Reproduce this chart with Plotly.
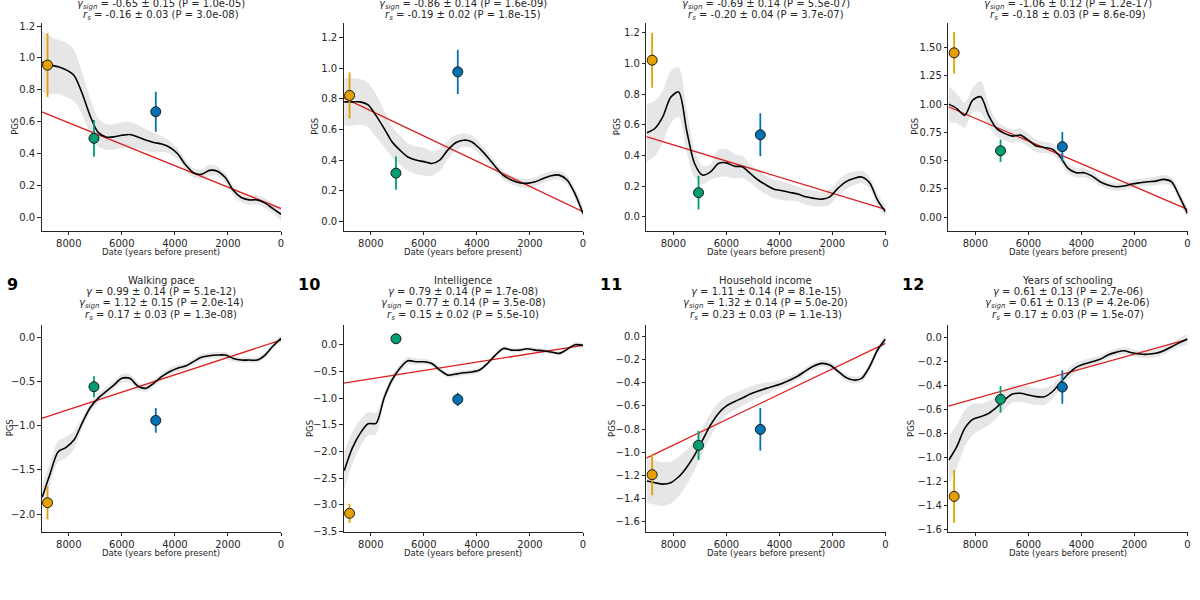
import plotly.graph_objects as go

# ---------------- data ----------------
years = [9000, 8700, 8400, 8100, 7800, 7500, 7200, 6900, 6600, 6300, 6000, 5700, 5400, 5100,
         4800, 4500, 4200, 3900, 3600, 3300, 3000, 2700, 2400, 2100, 1800, 1500, 1200, 900,
         600, 300, 0]

panel_ids = ["5", "6", "7", "8", "9", "10", "11", "12"]
trait_names = ["", "", "", "", "Walking pace", "Intelligence", "Household income", "Years of schooling"]
gamma_text = ["", "", "", "",
              "0.99 ± 0.14 (P = 5.1e-12)", "0.79 ± 0.14 (P = 1.7e-08)",
              "1.11 ± 0.14 (P = 8.1e-15)", "0.61 ± 0.13 (P = 2.7e-06)"]
gamma_sign_text = ["-0.65 ± 0.15 (P = 1.0e-05)", "-0.86 ± 0.14 (P = 1.6e-09)",
                   "-0.69 ± 0.14 (P = 5.5e-07)", "-1.06 ± 0.12 (P = 1.2e-17)",
                   "1.12 ± 0.15 (P = 2.0e-14)", "0.77 ± 0.14 (P = 3.5e-08)",
                   "1.32 ± 0.14 (P = 5.0e-20)", "0.61 ± 0.13 (P = 4.2e-06)"]
rs_text = ["-0.16 ± 0.03 (P = 3.0e-08)", "-0.19 ± 0.02 (P = 1.8e-15)",
           "-0.20 ± 0.04 (P = 3.7e-07)", "-0.18 ± 0.03 (P = 8.6e-09)",
           "0.17 ± 0.03 (P = 1.3e-08)", "0.15 ± 0.02 (P = 5.5e-10)",
           "0.23 ± 0.03 (P = 1.1e-13)", "0.17 ± 0.03 (P = 1.5e-07)"]

# smoothed PGS trajectory (black curve)
pgs_mean = [
    [0.975, 0.955, 0.945, 0.925, 0.89, 0.78, 0.64, 0.535, 0.505, 0.505, 0.515, 0.52, 0.505, 0.485,
     0.47, 0.46, 0.44, 0.40, 0.33, 0.28, 0.27, 0.295, 0.29, 0.25, 0.17, 0.125, 0.11, 0.11, 0.09, 0.055, 0.02],
    [0.78, 0.78, 0.78, 0.76, 0.69, 0.607, 0.52, 0.465, 0.42, 0.40, 0.39, 0.378, 0.40, 0.465,
     0.513, 0.53, 0.52, 0.476, 0.42, 0.357, 0.30, 0.27, 0.252, 0.248, 0.258, 0.28, 0.298, 0.302, 0.27, 0.18, 0.052],
    [0.548, 0.576, 0.652, 0.78, 0.815, 0.565, 0.348, 0.272, 0.293, 0.348, 0.352, 0.33, 0.326, 0.283,
     0.24, 0.207, 0.18, 0.17, 0.159, 0.148, 0.13, 0.12, 0.115, 0.13, 0.185, 0.228, 0.25, 0.26, 0.222, 0.109, 0.033],
    [0.999, 0.96, 0.90, 1.034, 1.064, 0.90, 0.784, 0.74, 0.716, 0.725, 0.68, 0.628, 0.616, 0.601,
     0.533, 0.43, 0.392, 0.392, 0.362, 0.312, 0.283, 0.268, 0.274, 0.292, 0.303, 0.312, 0.318, 0.333, 0.312, 0.18, 0.032],
    [-1.81, -1.54, -1.294, -1.245, -1.16, -0.974, -0.80, -0.69, -0.615, -0.54, -0.464, -0.464, -0.55, -0.577,
     -0.52, -0.445, -0.389, -0.35, -0.325, -0.275, -0.226, -0.208, -0.20, -0.20, -0.238, -0.257, -0.257, -0.257, -0.20, -0.098, -0.011],
    [-2.357, -1.94, -1.66, -1.48, -1.47, -1.0, -0.66, -0.44, -0.30, -0.318, -0.318, -0.35, -0.474, -0.568,
     -0.549, -0.524, -0.511, -0.474, -0.35, -0.193, -0.069, -0.10, -0.10, -0.075, -0.10, -0.112, -0.137, -0.162, -0.087, 0.0, -0.012],
    [-1.249, -1.263, -1.275, -1.263, -1.212, -1.131, -1.025, -0.895, -0.766, -0.665, -0.60, -0.564, -0.532, -0.498,
     -0.472, -0.449, -0.429, -0.406, -0.377, -0.342, -0.296, -0.256, -0.233, -0.248, -0.30, -0.354, -0.377, -0.363, -0.262, -0.118, -0.023],
    [-1.025, -0.914, -0.761, -0.686, -0.664, -0.636, -0.586, -0.525, -0.475, -0.469, -0.483, -0.497, -0.497, -0.456,
     -0.381, -0.308, -0.253, -0.225, -0.206, -0.186, -0.15, -0.128, -0.114, -0.131, -0.142, -0.144, -0.136, -0.114, -0.081, -0.047, -0.017],
]

# half-width of the confidence band (grey)
pgs_halfwidth = [
    [0.19, 0.18, 0.17, 0.17, 0.16, 0.13, 0.11, 0.09, 0.08, 0.08, 0.08, 0.08, 0.075, 0.07,
     0.06, 0.05, 0.04, 0.035, 0.03, 0.03, 0.03, 0.035, 0.03, 0.03, 0.03, 0.03, 0.03, 0.03, 0.03, 0.03, 0.04],
    [0.155, 0.155, 0.15, 0.145, 0.14, 0.12, 0.10, 0.095, 0.09, 0.09, 0.09, 0.08, 0.07, 0.06,
     0.05, 0.045, 0.04, 0.04, 0.035, 0.03, 0.03, 0.03, 0.03, 0.03, 0.03, 0.03, 0.03, 0.03, 0.03, 0.035, 0.04],
    [0.19, 0.18, 0.17, 0.17, 0.16, 0.14, 0.09, 0.06, 0.05, 0.09, 0.09, 0.08, 0.07, 0.06,
     0.06, 0.06, 0.06, 0.06, 0.055, 0.05, 0.05, 0.05, 0.05, 0.05, 0.05, 0.05, 0.045, 0.04, 0.04, 0.04, 0.04],
    [0.16, 0.13, 0.11, 0.11, 0.14, 0.10, 0.07, 0.06, 0.06, 0.06, 0.06, 0.055, 0.05, 0.05,
     0.05, 0.045, 0.04, 0.04, 0.04, 0.035, 0.035, 0.035, 0.035, 0.035, 0.035, 0.035, 0.04, 0.04, 0.04, 0.045, 0.05],
    [0.15, 0.13, 0.12, 0.12, 0.10, 0.06, 0.05, 0.05, 0.05, 0.05, 0.05, 0.05, 0.045, 0.04,
     0.04, 0.04, 0.04, 0.04, 0.035, 0.035, 0.035, 0.035, 0.035, 0.035, 0.035, 0.03, 0.03, 0.03, 0.03, 0.035, 0.04],
    [0.35, 0.30, 0.25, 0.22, 0.20, 0.10, 0.08, 0.08, 0.07, 0.06, 0.05, 0.05, 0.05, 0.05,
     0.05, 0.05, 0.05, 0.05, 0.045, 0.04, 0.04, 0.04, 0.04, 0.04, 0.04, 0.04, 0.04, 0.04, 0.04, 0.045, 0.05],
    [0.19, 0.19, 0.19, 0.18, 0.17, 0.15, 0.13, 0.11, 0.10, 0.09, 0.08, 0.075, 0.07, 0.065,
     0.06, 0.05, 0.04, 0.038, 0.035, 0.033, 0.03, 0.03, 0.03, 0.03, 0.03, 0.03, 0.03, 0.03, 0.03, 0.035, 0.04],
    [0.20, 0.18, 0.15, 0.13, 0.11, 0.10, 0.09, 0.08, 0.07, 0.07, 0.07, 0.07, 0.07, 0.06,
     0.05, 0.045, 0.04, 0.035, 0.033, 0.03, 0.03, 0.03, 0.03, 0.03, 0.03, 0.03, 0.03, 0.03, 0.03, 0.035, 0.045],
]

# linear fit (red line): value at present (0 yrs) and value at 9000 yrs BP
fit_at_present = [0.056, 0.063, 0.048, 0.068, -0.03, -0.012, -0.06, -0.019]
fit_at_9000 = [0.661, 0.805, 0.522, 0.974, -0.914, -0.717, -1.049, -0.574]

# population-group mean PGS with error bars
group_names = ["Hunter-gatherers", "Early farmers", "Steppe"]
group_dates = [8800, 7050, 4720]
group_pgs = [
    [0.955, 0.496, 0.663],
    [0.822, 0.315, 0.976],
    [1.022, 0.157, 0.535],
    [1.453, 0.586, 0.622],
    [-1.872, -0.559, -0.94],
    [-3.156, 0.112, -1.023],
    [-1.194, -0.941, -0.803],
    [-1.328, -0.519, -0.417],
]
group_err = [
    [0.20, 0.115, 0.125],
    [0.15, 0.108, 0.145],
    [0.18, 0.11, 0.14],
    [0.185, 0.10, 0.13],
    [0.19, 0.12, 0.14],
    [0.18, 0.08, 0.125],
    [0.177, 0.127, 0.185],
    [0.22, 0.11, 0.14],
]

x_ticks = [8000, 6000, 4000, 2000, 0]

# ---------------- styling / layout ----------------
W, H = 1200, 600
X_RANGE = [9020, 0]
col_left = [41.7, 343.7, 646.3, 948.3]
col_right = [281.0, 583.0, 885.5, 1187.5]
row_top = [23.0, 325.0]
row_bottom = [230.7, 531.7]
y_ranges = [[-0.083, 1.219], [-0.061, 1.295], [-0.091, 1.265], [-0.121, 1.717],
            [-2.2, 0.14], [-3.5, 0.37], [-1.686, 0.098], [-1.622, 0.10]]
y_dticks = [0.2, 0.2, 0.2, 0.25, 0.5, 0.5, 0.2, 0.2]
y_formats = [".1f", ".1f", ".1f", ".2f", ".1f", ".1f", ".1f", ".1f"]
pgs_label_offset = [26.7, 28.7, 29.0, 33.3, 31.7, 33.0, 33.7, 36.7]

group_colors = ["#E69F00", "#029E73", "#0173B2"]
FONT = "DejaVu Sans"
TXT = "#262626"

fig = go.Figure()
annotations = []
layout_axes = {}

def px_x(p):
    return p / W

def px_y(p):
    return 1 - p / H

for i in range(8):
    r, c = divmod(i, 4)
    n = i + 1
    xa = "x" if n == 1 else f"x{n}"
    ya = "y" if n == 1 else f"y{n}"
    mean = pgs_mean[i]
    hw = pgs_halfwidth[i]
    upper = [m + h for m, h in zip(mean, hw)]
    lower = [m - h for m, h in zip(mean, hw)]

    fig.add_trace(go.Scatter(x=years, y=upper, mode="lines", line=dict(width=0, shape="spline", smoothing=0.8),
                             hoverinfo="skip", showlegend=False, xaxis=xa, yaxis=ya))
    fig.add_trace(go.Scatter(x=years, y=lower, mode="lines", line=dict(width=0, shape="spline", smoothing=0.8),
                             fill="tonexty", fillcolor="rgba(200,200,200,0.45)",
                             hoverinfo="skip", showlegend=False, xaxis=xa, yaxis=ya))
    # linear fit
    slope = (fit_at_9000[i] - fit_at_present[i]) / 9000.0
    fit_x = [X_RANGE[0], 0]
    fit_y = [fit_at_present[i] + slope * fx for fx in fit_x]
    fig.add_trace(go.Scatter(x=fit_x, y=fit_y, mode="lines", line=dict(color="#DC1E1E", width=1.3),
                             showlegend=False, xaxis=xa, yaxis=ya))
    fig.add_trace(go.Scatter(x=years, y=mean, mode="lines",
                             line=dict(color="black", width=1.6, shape="spline", smoothing=0.8),
                             showlegend=False, xaxis=xa, yaxis=ya))
    for g in range(3):
        fig.add_trace(go.Scatter(
            x=[group_dates[g]], y=[group_pgs[i][g]], mode="markers", name=group_names[g],
            marker=dict(color=group_colors[g], size=10, line=dict(color="#1a1a1a", width=1)),
            error_y=dict(type="data", array=[group_err[i][g]], color=group_colors[g], thickness=1.8, width=0),
            showlegend=False, xaxis=xa, yaxis=ya))

    xd = [px_x(col_left[c]), px_x(col_right[c])]
    yd = [px_y(row_bottom[r]), px_y(row_top[r])]
    common = dict(showline=True, linecolor=TXT, linewidth=1, ticks="outside", ticklen=3.5, tickwidth=1,
                  tickcolor=TXT, showgrid=False, zeroline=False, automargin=False,
                  tickfont=dict(family=FONT, size=10, color=TXT))
    layout_axes["xaxis" if n == 1 else f"xaxis{n}"] = dict(
        domain=xd, anchor=ya, range=X_RANGE, tickvals=x_ticks, ticktext=[str(t) for t in x_ticks], **common)
    layout_axes["yaxis" if n == 1 else f"yaxis{n}"] = dict(
        domain=yd, anchor=xa, range=y_ranges[i], dtick=y_dticks[i], tick0=0, tickformat=y_formats[i], **common)

    cx = (col_left[c] + col_right[c]) / 2
    # axis titles
    annotations.append(dict(text="Date (years before present)", x=px_x(cx), y=px_y(row_bottom[r] + 21.5),
                            xref="paper", yref="paper", showarrow=False, xanchor="center", yanchor="middle",
                            font=dict(family=FONT, size=8.5, color=TXT)))
    annotations.append(dict(text="PGS", x=px_x(col_left[c] - pgs_label_offset[i]),
                            y=px_y((row_top[r] + row_bottom[r]) / 2), textangle=-90,
                            xref="paper", yref="paper", showarrow=False, xanchor="center", yanchor="middle",
                            font=dict(family=FONT, size=8.5, color=TXT)))
    # titles
    if r == 0:
        lines = [("<i>γ</i><sub><i>sign</i></sub> = " + gamma_sign_text[i], 4.0, 10),
                 ("<i>r</i><sub><i>s</i></sub> = " + rs_text[i], 15.5, 10)]
    else:
        lines = [(trait_names[i], 280.0, 10),
                 ("<i>γ</i> = " + gamma_text[i], 291.8, 10),
                 ("<i>γ</i><sub><i>sign</i></sub> = " + gamma_sign_text[i], 303.5, 10),
                 ("<i>r</i><sub><i>s</i></sub> = " + rs_text[i], 315.2, 10)]
        annotations.append(dict(text="<b>" + panel_ids[i] + "</b>", x=px_x(col_left[c] - 22.0), y=px_y(284),
                                xref="paper", yref="paper", showarrow=False, xanchor="right", yanchor="middle",
                                font=dict(family=FONT, size=16, color="black")))
    for txt, ypix, fs in lines:
        annotations.append(dict(text=txt, x=px_x(cx), y=px_y(ypix), xref="paper", yref="paper",
                                showarrow=False, xanchor="center", yanchor="middle",
                                font=dict(family=FONT, size=fs, color=TXT)))

fig.update_layout(width=W, height=H, margin=dict(l=0, r=0, t=0, b=0),
                  paper_bgcolor="white", plot_bgcolor="white", showlegend=False,
                  annotations=annotations, **layout_axes)

fig.write_html("out.html", config={"displayModeBar": False},
               post_script="document.body.style.margin='0';document.body.style.overflow='hidden';")
